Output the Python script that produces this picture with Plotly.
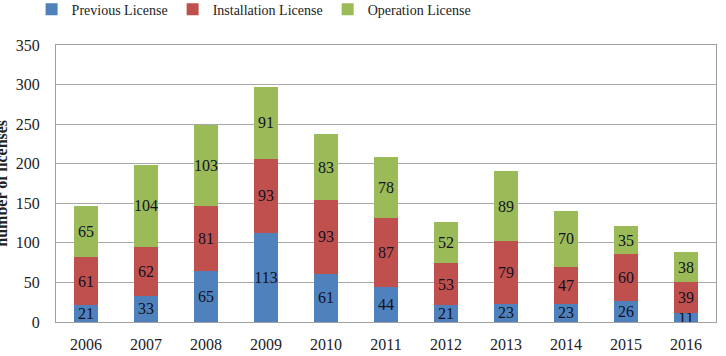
import plotly.graph_objects as go

years = ["2006", "2007", "2008", "2009", "2010", "2011", "2012", "2013", "2014", "2015", "2016"]
previous = [21, 33, 65, 113, 61, 44, 21, 23, 23, 26, 11]
installation = [61, 62, 81, 93, 93, 87, 53, 79, 47, 60, 39]
operation = [65, 104, 103, 91, 83, 78, 52, 89, 70, 35, 38]

series = [
    ("Previous License", previous, "#4F81BD"),
    ("Installation License", installation, "#C0504D"),
    ("Operation License", operation, "#9BBB59"),
]

font_family = "Liberation Serif"

fig = go.Figure()
for name, vals, color in series:
    fig.add_trace(go.Bar(
        x=years, y=vals, name=name,
        marker=dict(color=color, line=dict(width=0)),
        text=[str(v) for v in vals],
        textposition="inside",
        insidetextanchor="middle",
        textangle=0,
        textfont=dict(family=font_family, size=16, color="#111122"),
        constraintext="none",
    ))

fig.update_layout(
    barmode="stack",
    bargap=0.6,
    width=726, height=356,
    margin=dict(l=56, r=10, t=45, b=34, autoexpand=False),
    plot_bgcolor="white",
    paper_bgcolor="white",
    font=dict(family=font_family, size=16, color="#222222"),
    uniformtext=dict(mode="show", minsize=16),
    legend=dict(
        orientation="h",
        xref="container", yref="paper",
        x=0.35, y=1.128, xanchor="center", yanchor="middle",
        font=dict(family=font_family, size=14, color="#222222"),
        itemwidth=30,
        traceorder="normal",
        bgcolor="rgba(0,0,0,0)",
    ),
    xaxis=dict(
        showline=True, linecolor="#A0A0A0", linewidth=1, mirror=True,
        ticks="", tickfont=dict(size=16), ticklabelstandoff=8,
    ),
    yaxis=dict(
        range=[0, 350], dtick=50,
        showgrid=True, gridcolor="#A8A8A8", gridwidth=1,
        showline=True, linecolor="#A0A0A0", linewidth=1, mirror=True,
        ticks="", tickfont=dict(size=16), ticklabelstandoff=12,
        zeroline=False,
    ),
)

fig.add_annotation(
    text="<b>number of licenses</b>",
    xref="paper", yref="paper",
    x=-0.083, y=0.5, textangle=-90,
    showarrow=False,
    xanchor="center", yanchor="middle",
    font=dict(family=font_family, size=16, color="#222222"),
)

fig.write_html("out.html")
